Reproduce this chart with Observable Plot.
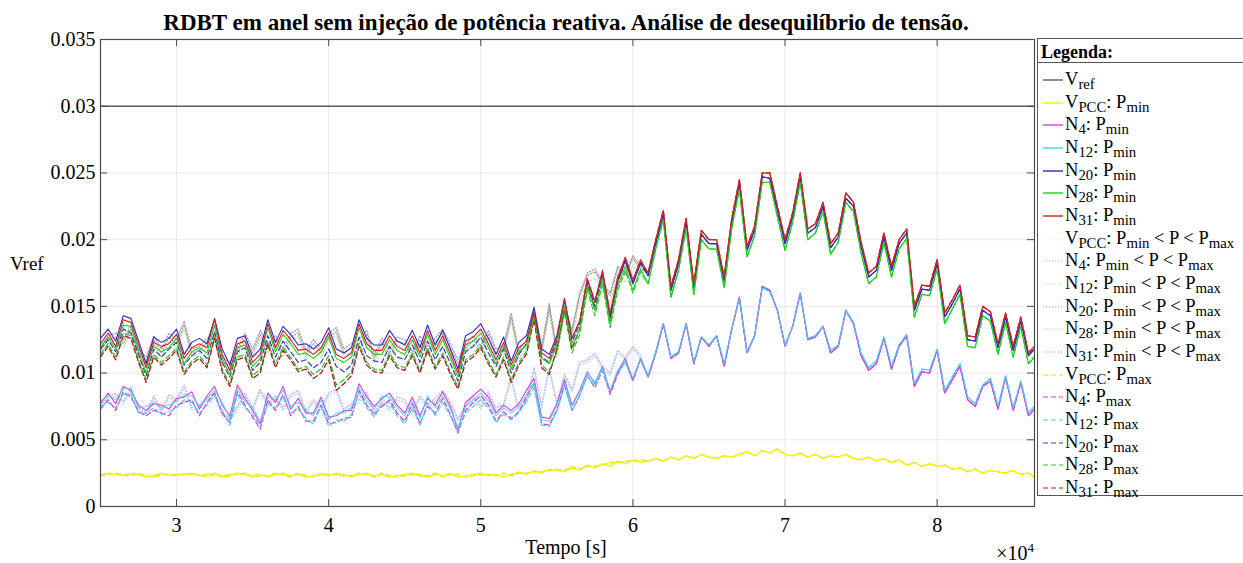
<!DOCTYPE html>
<html><head><meta charset="utf-8">
<script src="https://cdn.jsdelivr.net/npm/d3@7"></script>
<script src="https://cdn.jsdelivr.net/npm/@observablehq/plot@0.6"></script>
<style>
body{margin:0;background:#fff;overflow:hidden}
#wrap{position:relative;width:1243px;height:563px;overflow:hidden;font-family:"Liberation Serif","Times New Roman",serif;color:#000;background:#fff}
#wrap svg.plot{position:absolute;left:0;top:0}
.abs{position:absolute;white-space:nowrap}
#title{left:0;width:1132px;top:11px;text-align:center;font-weight:bold;font-size:23px;line-height:23px}
#ylab{left:10px;top:254px;font-size:19px;line-height:19px}
#xlab{left:466px;width:200px;text-align:center;top:537px;font-size:20px;line-height:20px}
#xexp{right:209px;top:545px;font-size:20px;line-height:16px}
#xexp sup{font-size:13px;vertical-align:8px;line-height:0}
#legend{left:1037px;top:38px;width:230px;height:456px;border:1px solid #555;background:#fff}
#legend .hdr{position:absolute;left:3px;top:2px;font-weight:bold;font-size:18px;line-height:22px}
#legend .sep{position:absolute;left:0;right:0;top:23px;border-top:1px solid #555}
#legend .row{position:absolute;left:0;height:23px;font-size:18.5px;line-height:22.67px;white-space:nowrap}
#legend .row svg{position:absolute;left:5px;top:7px}
#legend .row span{position:absolute;left:27px;top:0}
#legend sub{font-size:0.8em;vertical-align:-0.28em;line-height:0}
</style></head><body><div id="wrap"></div>
<script>
// ---- data -----------------------------------------------------------
const time = [
25000,25500,26000,26500,27000,27500,28000,28500,29000,29500,
30000,30500,31000,31500,32000,32500,33000,33500,34000,34500,
35000,35500,36000,36500,37000,37500,38000,38500,39000,39500,
40000,40500,41000,41500,42000,42500,43000,43500,44000,44500,
45000,45500,46000,46500,47000,47500,48000,48500,49000,49500,
50000,50500,51000,51500,52000,52500,53000,53500,54000,54500,
55000,55500,56000,56500,57000,57500,58000,58500,59000,59500,
60000,60500,61000,61500,62000,62500,63000,63500,64000,64500,
65000,65500,66000,66500,67000,67500,68000,68500,69000,69500,
70000,70500,71000,71500,72000,72500,73000,73500,74000,74500,
75000,75500,76000,76500,77000,77500,78000,78500,79000,79500,
80000,80500,81000,81500,82000,82500,83000,83500,84000,84500,
85000,85500,86000,86400];

const vrefLevel = [0.03];
const xTicks = [30000,40000,50000,60000,70000,80000];
const yTicks = [0,0.005,0.01,0.015,0.02,0.025,0.03,0.035];

const vpccMin = [
.0024,.0025,.0024,.0023,.0025,.0024,.0022,.0023,.0025,.0023,
.0024,.0024,.0025,.0023,.0024,.0025,.0022,.0023,.0025,.0024,
.0023,.0024,.0022,.0024,.0025,.0023,.0024,.0022,.0023,.0024,
.0023,.0025,.0024,.0022,.0024,.0025,.0023,.0024,.0022,.0023,
.0024,.0025,.0023,.0022,.0024,.0023,.0025,.0022,.0023,.0024,
.0025,.0023,.0024,.0022,.0024,.0026,.0024,.0027,.0025,.0028,
.0027,.0026,.0029,.0027,.0031,.0029,.0032,.0030,.0034,.0032,
.0035,.0033,.0034,.0036,.0034,.0037,.0035,.0038,.0036,.0039,
.0037,.0036,.0038,.0037,.0039,.0041,.0038,.0042,.0040,.0043,
.0039,.0038,.0040,.0037,.0039,.0036,.0038,.0037,.0039,.0036,
.0035,.0037,.0034,.0036,.0033,.0035,.0031,.0033,.0030,.0032,
.0030,.0031,.0028,.0029,.0026,.0028,.0025,.0027,.0026,.0025,
.0027,.0024,.0025,.0022];

const n4Min = [
.0077,.0085,.0077,.0090,.0087,.0076,.0072,.0077,.0076,.0073,
.0081,.0082,.0086,.0073,.0083,.0090,.0076,.0068,.0091,.0081,
.0072,.0062,.0085,.0078,.0090,.0073,.0081,.0070,.0070,.0082,
.0067,.0068,.0072,.0072,.0092,.0082,.0075,.0081,.0085,.0076,
.0070,.0082,.0068,.0081,.0076,.0086,.0075,.0057,.0078,.0083,
.0088,.0082,.0070,.0076,.0072,.0077,.0087,.0096,.0067,.0066,
.0077,.0095,.0076,.0087,.0101,.0092,.0105,.0086,.0101,.0111,
.0095,.0111,.0097,.0115,.0137,.0111,.0115,.0137,.0107,.0127,
.0120,.0128,.0105,.0133,.0157,.0115,.0128,.0165,.0162,.0147,
.0120,.0135,.0160,.0125,.0127,.0135,.0115,.0120,.0147,.0137,
.0113,.0102,.0107,.0126,.0103,.0120,.0128,.0090,.0101,.0100,
.0117,.0085,.0095,.0105,.0080,.0075,.0090,.0094,.0073,.0097,
.0072,.0093,.0068,.0073];

const n12Min = [
.0079,.0083,.0080,.0088,.0089,.0074,.0075,.0078,.0074,.0076,
.0079,.0084,.0083,.0075,.0081,.0087,.0078,.0066,.0088,.0079,
.0074,.0064,.0082,.0080,.0087,.0075,.0078,.0072,.0068,.0080,
.0065,.0070,.0070,.0074,.0089,.0079,.0073,.0083,.0082,.0074,
.0068,.0079,.0066,.0083,.0074,.0083,.0073,.0059,.0075,.0080,
.0085,.0079,.0068,.0074,.0070,.0075,.0084,.0093,.0065,.0064,
.0075,.0093,.0075,.0086,.0100,.0093,.0104,.0087,.0102,.0110,
.0096,.0111,.0098,.0116,.0137,.0112,.0116,.0137,.0108,.0127,
.0121,.0128,.0107,.0133,.0156,.0116,.0128,.0164,.0161,.0147,
.0121,.0135,.0159,.0126,.0128,.0135,.0117,.0121,.0147,.0138,
.0115,.0104,.0109,.0127,.0105,.0121,.0129,.0092,.0103,.0102,
.0118,.0087,.0097,.0107,.0082,.0077,.0091,.0096,.0075,.0098,
.0074,.0094,.0070,.0075];

const n20Min = [
.0126,.0133,.0124,.0143,.0141,.0124,.0107,.0127,.0123,.0126,
.0133,.0114,.0123,.0126,.0122,.0141,.0118,.0106,.0126,.0128,
.0112,.0118,.0140,.0123,.0135,.0129,.0121,.0122,.0118,.0123,
.0134,.0118,.0115,.0119,.0140,.0126,.0121,.0121,.0132,.0124,
.0121,.0132,.0119,.0136,.0121,.0132,.0118,.0103,.0128,.0131,
.0137,.0126,.0114,.0127,.0109,.0123,.0128,.0149,.0118,.0114,
.0128,.0156,.0126,.0139,.0170,.0153,.0176,.0143,.0170,.0185,
.0168,.0183,.0173,.0197,.0219,.0162,.0182,.0213,.0164,.0204,
.0197,.0197,.0169,.0213,.0241,.0192,.0207,.0247,.0246,.0222,
.0197,.0217,.0246,.0205,.0209,.0225,.0194,.0202,.0231,.0225,
.0195,.0172,.0177,.0202,.0177,.0197,.0205,.0147,.0163,.0162,
.0182,.0142,.0152,.0163,.0125,.0124,.0147,.0143,.0119,.0142,
.0117,.0139,.0113,.0118];

const n28Min = [
.0119,.0127,.0118,.0136,.0135,.0117,.0100,.0120,.0116,.0119,
.0126,.0107,.0116,.0119,.0115,.0136,.0111,.0099,.0119,.0121,
.0105,.0111,.0134,.0116,.0129,.0122,.0114,.0115,.0111,.0116,
.0127,.0111,.0108,.0112,.0134,.0119,.0114,.0114,.0125,.0117,
.0114,.0125,.0112,.0129,.0114,.0125,.0111,.0097,.0121,.0124,
.0130,.0119,.0107,.0120,.0103,.0116,.0121,.0142,.0111,.0107,
.0121,.0150,.0120,.0133,.0165,.0147,.0171,.0137,.0165,.0180,
.0162,.0178,.0167,.0193,.0215,.0157,.0177,.0209,.0159,.0200,
.0193,.0193,.0164,.0209,.0238,.0187,.0203,.0243,.0243,.0217,
.0192,.0213,.0243,.0200,.0205,.0221,.0189,.0198,.0228,.0221,
.0190,.0167,.0172,.0198,.0172,.0193,.0201,.0142,.0159,.0158,
.0178,.0137,.0148,.0159,.0120,.0119,.0143,.0139,.0114,.0138,
.0112,.0135,.0107,.0112];

const n31Min = [
.0122,.0130,.0120,.0140,.0138,.0121,.0104,.0123,.0120,.0122,
.0129,.0111,.0119,.0122,.0119,.0140,.0114,.0102,.0122,.0124,
.0108,.0114,.0137,.0119,.0132,.0125,.0117,.0118,.0114,.0119,
.0130,.0114,.0111,.0115,.0137,.0122,.0117,.0117,.0128,.0120,
.0117,.0128,.0115,.0132,.0117,.0128,.0114,.0100,.0124,.0127,
.0133,.0122,.0110,.0123,.0106,.0119,.0124,.0145,.0115,.0111,
.0126,.0155,.0126,.0139,.0171,.0154,.0177,.0145,.0172,.0187,
.0170,.0185,.0175,.0200,.0222,.0165,.0185,.0216,.0167,.0207,
.0200,.0200,.0172,.0216,.0245,.0195,.0210,.0250,.0250,.0225,
.0200,.0220,.0250,.0208,.0212,.0228,.0197,.0205,.0235,.0228,
.0198,.0175,.0180,.0205,.0180,.0200,.0208,.0150,.0166,.0165,
.0185,.0145,.0155,.0166,.0128,.0127,.0150,.0146,.0122,.0145,
.0120,.0142,.0115,.0120];

// From this sample on, the Pmin<P<Pmax and Pmax curves lie on the Pmin curves
const joinIndex = 72;

const vpccMidLeft = [
.0024,.0023,.0024,.0025,.0024,.0023,.0024,.0024,.0023,.0025,
.0024,.0023,.0024,.0024,.0025,.0023,.0023,.0024,.0024,.0023,
.0024,.0025,.0023,.0024,.0023,.0024,.0023,.0024,.0025,.0023,
.0024,.0023,.0024,.0025,.0023,.0024,.0023,.0023,.0024,.0024,
.0024,.0024,.0023,.0023,.0024,.0024,.0023,.0024,.0025,.0024,
.0023,.0024,.0024,.0023,.0025,.0024,.0026,.0026,.0027,.0026,
.0027,.0028,.0029,.0030,.0030,.0031,.0032,.0032,.0033,.0034,
.0034,.0035];
const n4MidLeft = [
.0076,.0082,.0085,.0079,.0088,.0074,.0070,.0083,.0072,.0084,
.0080,.0091,.0074,.0076,.0082,.0085,.0070,.0066,.0075,.0085,
.0074,.0088,.0077,.0083,.0074,.0084,.0087,.0072,.0080,.0074,
.0085,.0088,.0073,.0077,.0080,.0086,.0070,.0081,.0074,.0082,
.0080,.0071,.0083,.0076,.0081,.0087,.0078,.0066,.0076,.0083,
.0075,.0086,.0074,.0077,.0097,.0073,.0080,.0104,.0076,.0104,
.0078,.0099,.0088,.0108,.0110,.0115,.0105,.0100,.0117,.0112,
.0120,.0113];
const n12MidLeft = [
.0074,.0080,.0083,.0077,.0086,.0072,.0068,.0081,.0070,.0082,
.0078,.0089,.0072,.0074,.0080,.0083,.0068,.0064,.0073,.0083,
.0072,.0086,.0075,.0081,.0072,.0082,.0085,.0070,.0078,.0072,
.0083,.0086,.0071,.0075,.0078,.0084,.0068,.0079,.0072,.0080,
.0078,.0069,.0081,.0074,.0079,.0085,.0076,.0064,.0074,.0081,
.0073,.0084,.0072,.0075,.0095,.0071,.0078,.0102,.0074,.0102,
.0076,.0097,.0086,.0106,.0108,.0113,.0103,.0098,.0115,.0110,
.0118,.0111];
const n20MidLeft = [
.0120,.0128,.0130,.0125,.0136,.0118,.0112,.0128,.0118,.0130,
.0125,.0139,.0118,.0120,.0126,.0130,.0112,.0108,.0118,.0130,
.0118,.0132,.0121,.0128,.0118,.0130,.0133,.0117,.0125,.0118,
.0130,.0134,.0118,.0122,.0125,.0132,.0114,.0126,.0118,.0127,
.0125,.0116,.0128,.0120,.0126,.0133,.0122,.0110,.0121,.0128,
.0120,.0132,.0118,.0121,.0145,.0117,.0125,.0150,.0120,.0152,
.0118,.0150,.0133,.0160,.0175,.0178,.0168,.0160,.0180,.0175,
.0188,.0180];
const n28MidLeft = [
.0114,.0122,.0124,.0119,.0130,.0112,.0106,.0122,.0112,.0124,
.0119,.0133,.0112,.0114,.0120,.0124,.0106,.0102,.0112,.0124,
.0112,.0126,.0115,.0122,.0112,.0124,.0127,.0111,.0119,.0112,
.0124,.0128,.0112,.0116,.0119,.0126,.0108,.0120,.0112,.0121,
.0119,.0110,.0122,.0114,.0120,.0127,.0116,.0104,.0115,.0122,
.0114,.0126,.0112,.0115,.0139,.0111,.0119,.0144,.0114,.0146,
.0112,.0144,.0127,.0153,.0168,.0171,.0161,.0153,.0173,.0168,
.0181,.0173];
const n31MidLeft = [
.0117,.0125,.0127,.0122,.0133,.0115,.0109,.0125,.0115,.0127,
.0122,.0136,.0115,.0117,.0123,.0127,.0109,.0105,.0115,.0127,
.0115,.0129,.0118,.0125,.0115,.0127,.0130,.0114,.0122,.0115,
.0127,.0131,.0115,.0119,.0122,.0129,.0111,.0123,.0115,.0124,
.0122,.0113,.0125,.0117,.0123,.0130,.0119,.0107,.0118,.0125,
.0117,.0129,.0115,.0118,.0142,.0114,.0122,.0147,.0117,.0149,
.0116,.0148,.0131,.0158,.0173,.0176,.0166,.0158,.0178,.0173,
.0186,.0178];

const vpccMaxLeft = [
.0023,.0024,.0025,.0024,.0023,.0025,.0023,.0022,.0024,.0024,
.0023,.0025,.0024,.0024,.0022,.0024,.0023,.0024,.0024,.0025,
.0022,.0023,.0023,.0025,.0024,.0022,.0025,.0023,.0022,.0025,
.0024,.0024,.0023,.0023,.0025,.0024,.0022,.0025,.0023,.0022,
.0023,.0024,.0024,.0023,.0025,.0022,.0024,.0024,.0022,.0023,
.0024,.0024,.0023,.0025,.0023,.0025,.0025,.0026,.0026,.0027,
.0028,.0027,.0030,.0028,.0030,.0030,.0031,.0033,.0033,.0034,
.0034,.0035];
const n4MaxLeft = [
.0073,.0080,.0072,.0086,.0082,.0071,.0068,.0072,.0070,.0068,
.0076,.0078,.0080,.0068,.0078,.0085,.0070,.0063,.0086,.0076,
.0067,.0058,.0080,.0072,.0084,.0068,.0075,.0064,.0064,.0076,
.0062,.0063,.0066,.0067,.0087,.0076,.0069,.0075,.0080,.0070,
.0064,.0077,.0062,.0075,.0070,.0081,.0069,.0055,.0072,.0078,
.0083,.0076,.0064,.0071,.0066,.0071,.0082,.0092,.0062,.0061,
.0072,.0091,.0072,.0083,.0098,.0089,.0102,.0084,.0099,.0109,
.0094,.0110];
const n12MaxLeft = [
.0075,.0078,.0074,.0084,.0084,.0070,.0070,.0074,.0069,.0071,
.0074,.0080,.0078,.0070,.0076,.0083,.0072,.0061,.0084,.0074,
.0069,.0060,.0077,.0074,.0082,.0070,.0073,.0066,.0062,.0075,
.0060,.0065,.0064,.0069,.0085,.0074,.0067,.0077,.0078,.0068,
.0062,.0074,.0061,.0078,.0068,.0078,.0068,.0056,.0070,.0075,
.0080,.0074,.0063,.0069,.0065,.0070,.0079,.0089,.0061,.0060,
.0071,.0090,.0072,.0083,.0098,.0090,.0102,.0085,.0100,.0108,
.0095,.0110];
const n20MaxLeft = [
.0118,.0125,.0116,.0133,.0130,.0114,.0098,.0118,.0112,.0118,
.0123,.0106,.0113,.0117,.0111,.0131,.0108,.0097,.0116,.0119,
.0102,.0108,.0128,.0112,.0124,.0116,.0108,.0110,.0104,.0108,
.0118,.0105,.0101,.0106,.0127,.0113,.0109,.0108,.0120,.0112,
.0110,.0121,.0108,.0124,.0110,.0120,.0107,.0094,.0116,.0120,
.0127,.0115,.0105,.0118,.0100,.0114,.0122,.0146,.0112,.0108,
.0124,.0153,.0123,.0137,.0168,.0150,.0174,.0141,.0169,.0184,
.0167,.0182];
const n28MaxLeft = [
.0114,.0122,.0112,.0130,.0128,.0110,.0095,.0114,.0108,.0113,
.0119,.0101,.0109,.0113,.0106,.0128,.0103,.0092,.0112,.0114,
.0098,.0103,.0124,.0107,.0119,.0112,.0103,.0105,.0099,.0103,
.0113,.0091,.0095,.0101,.0122,.0108,.0103,.0102,.0115,.0106,
.0104,.0115,.0102,.0119,.0105,.0115,.0101,.0090,.0110,.0114,
.0121,.0109,.0099,.0112,.0095,.0108,.0116,.0141,.0106,.0101,
.0116,.0146,.0115,.0129,.0162,.0143,.0167,.0134,.0162,.0177,
.0160,.0176];
const n31MaxLeft = [
.0112,.0120,.0110,.0128,.0126,.0108,.0093,.0112,.0106,.0111,
.0117,.0099,.0107,.0111,.0104,.0126,.0101,.0090,.0110,.0112,
.0096,.0100,.0122,.0104,.0117,.0110,.0101,.0103,.0096,.0100,
.0110,.0087,.0092,.0098,.0120,.0106,.0101,.0100,.0113,.0104,
.0102,.0113,.0100,.0117,.0103,.0113,.0099,.0088,.0108,.0112,
.0119,.0107,.0097,.0110,.0093,.0106,.0114,.0140,.0104,.0099,
.0118,.0148,.0118,.0133,.0166,.0148,.0172,.0140,.0168,.0184,
.0167,.0183];

// ---- series ---------------------------------------------------------
const join = (left, base) => left.concat(base.slice(joinIndex));
const DOT = "1.2,1.8", DASH = "5,3";
const pminSeries = [
  {node:"V", sub:"PCC", cond:"min", values:vpccMin, color:"#f2f200", w:1.3, dash:null, op:1},
  {node:"N", sub:"4",   cond:"min", values:n4Min,   color:"#e23ce2", w:1.1, dash:null, op:1},
  {node:"N", sub:"12",  cond:"min", values:n12Min,  color:"#3ad4f2", w:1.1, dash:null, op:0.8},
  {node:"N", sub:"20",  cond:"min", values:n20Min,  color:"#2b2bc8", w:1.1, dash:null, op:1},
  {node:"N", sub:"28",  cond:"min", values:n28Min,  color:"#1ed21e", w:1.1, dash:null, op:1},
  {node:"N", sub:"31",  cond:"min", values:n31Min,  color:"#dc1f1f", w:1.1, dash:null, op:1}
];
const midSeries = [
  {node:"V", sub:"PCC", cond:"mid", values:join(vpccMidLeft, vpccMin), color:"#f3f3c6", w:1.2, dash:DOT, op:1},
  {node:"N", sub:"4",   cond:"mid", values:join(n4MidLeft, n4Min),     color:"#d8a6dc", w:1.2, dash:DOT, op:1},
  {node:"N", sub:"12",  cond:"mid", values:join(n12MidLeft, n12Min),   color:"#a8dcea", w:1.2, dash:DOT, op:1},
  {node:"N", sub:"20",  cond:"mid", values:join(n20MidLeft, n20Min),   color:"#9a98a8", w:1.2, dash:DOT, op:1},
  {node:"N", sub:"28",  cond:"mid", values:join(n28MidLeft, n28Min),   color:"#b6dcb4", w:1.2, dash:DOT, op:1},
  {node:"N", sub:"31",  cond:"mid", values:join(n31MidLeft, n31Min),   color:"#ab9a8a", w:1.2, dash:DOT, op:1}
];
const pmaxSeries = [
  {node:"V", sub:"PCC", cond:"max", values:join(vpccMaxLeft, vpccMin), color:"#e6e600", w:1.3, dash:DASH, op:1},
  {node:"N", sub:"4",   cond:"max", values:join(n4MaxLeft, n4Min),     color:"#cf3ccf", w:1.2, dash:DASH, op:1},
  {node:"N", sub:"12",  cond:"max", values:join(n12MaxLeft, n12Min),   color:"#52cdee", w:1.2, dash:DASH, op:1},
  {node:"N", sub:"20",  cond:"max", values:join(n20MaxLeft, n20Min),   color:"#3c3cb0", w:1.2, dash:DASH, op:1},
  {node:"N", sub:"28",  cond:"max", values:join(n28MaxLeft, n28Min),   color:"#2fbf2f", w:1.2, dash:DASH, op:1},
  {node:"N", sub:"31",  cond:"max", values:join(n31MaxLeft, n31Min),   color:"#a82020", w:1.3, dash:DASH, op:1}
];
const vrefItem = {node:"V", sub:"ref", cond:null, color:"#5e5e5e", w:1.6, dash:null, op:1};

const allSeries = [...pminSeries, ...midSeries, ...pmaxSeries];
for (const s of allSeries) {
  if (s.values.length !== time.length) throw new Error(`length mismatch ${s.node}${s.sub} ${s.cond}: ${s.values.length} vs ${time.length}`);
}
const toRows = s => s.values.map((v, i) => ({t: time[i], v}));

// drawing order: dotted, dashed, then solid Pmin on top
const drawOrder = [...midSeries, ...pmaxSeries, ...pminSeries];

const W = 1243, H = 563, mL = 100, mR = 209, mT = 39, mB = 57;
const plotW = W - mL - mR, plotH = H - mT - mB, tick = 7;
const font = "Liberation Serif, Times New Roman, serif";

const chart = Plot.plot({
  width: W, height: H,
  marginLeft: mL, marginRight: mR, marginTop: mT, marginBottom: mB,
  x: {domain: [25000, 86400]},
  y: {domain: [0, 0.035]},
  style: {fontFamily: font, fontSize: "20px", background: "transparent", color: "#000"},
  marks: [
    Plot.gridX(xTicks, {stroke: "#000", strokeOpacity: 0.09, strokeWidth: 1}),
    Plot.gridY(yTicks, {stroke: "#000", strokeOpacity: 0.09, strokeWidth: 1}),
    Plot.ruleY(vrefLevel, {stroke: vrefItem.color, strokeWidth: vrefItem.w}),
    ...drawOrder.map(s => Plot.line(toRows(s), {
      x: "t", y: "v", stroke: s.color, strokeWidth: s.w, strokeOpacity: s.op,
      strokeDasharray: s.dash ?? undefined, strokeLinejoin: "round"
    })),
    Plot.frame({stroke: "#4a4a4a", strokeWidth: 1.2}),
    Plot.tickX(xTicks, {x: d => d, insetTop: plotH - tick, stroke: "#4a4a4a"}),
    Plot.tickX(xTicks, {x: d => d, insetBottom: plotH - tick, stroke: "#4a4a4a"}),
    Plot.tickY(yTicks, {y: d => d, insetRight: plotW - tick, stroke: "#4a4a4a"}),
    Plot.tickY(yTicks, {y: d => d, insetLeft: plotW - tick, stroke: "#4a4a4a"}),
    Plot.axisX(xTicks, {tickSize: 0, tickPadding: 11, tickFormat: d => String(d / 1e4), label: null, fontSize: 20}),
    Plot.axisY(yTicks, {tickSize: 0, tickPadding: 5, tickFormat: d => String(d), label: null, fontSize: 20})
  ]
});
chart.classList.add("plot");

const wrap = document.getElementById("wrap");
wrap.appendChild(chart);

function addDiv(id, html) {
  const d = document.createElement("div");
  d.id = id; d.className = "abs"; d.innerHTML = html;
  wrap.appendChild(d);
  return d;
}
addDiv("title", "RDBT em anel sem injeção de potência reativa. Análise de desequilíbrio de tensão.");
addDiv("ylab", "Vref");
addDiv("xlab", "Tempo [s]");
addDiv("xexp", "×10<sup>4</sup>");

// legend
function labelHtml(it) {
  let s = `${it.node}<sub>${it.sub}</sub>`;
  if (it.cond === "min") s += ": P<sub>min</sub>";
  else if (it.cond === "mid") s += ": P<sub>min</sub> &lt; P &lt; P<sub>max</sub>";
  else if (it.cond === "max") s += ": P<sub>max</sub>";
  return s;
}
const legend = addDiv("legend", `<div class="hdr">Legenda:</div><div class="sep"></div>`);
const legendItems = [vrefItem, ...pminSeries, ...midSeries, ...pmaxSeries];
legendItems.forEach((it, i) => {
  const row = document.createElement("div");
  row.className = "row";
  row.style.top = (29 + i * 22.67) + "px";
  const dash = it.dash ? `stroke-dasharray="${it.dash === DASH ? "5,3" : "1.2,1.8"}"` : "";
  row.innerHTML = `<svg width="20" height="10"><line x1="0" x2="20" y1="5" y2="5" stroke="${it.color}" stroke-width="${it.dash ? 1.2 : 1.4}" ${dash}/></svg><span>${labelHtml(it)}</span>`;
  legend.appendChild(row);
});
</script></body></html>
